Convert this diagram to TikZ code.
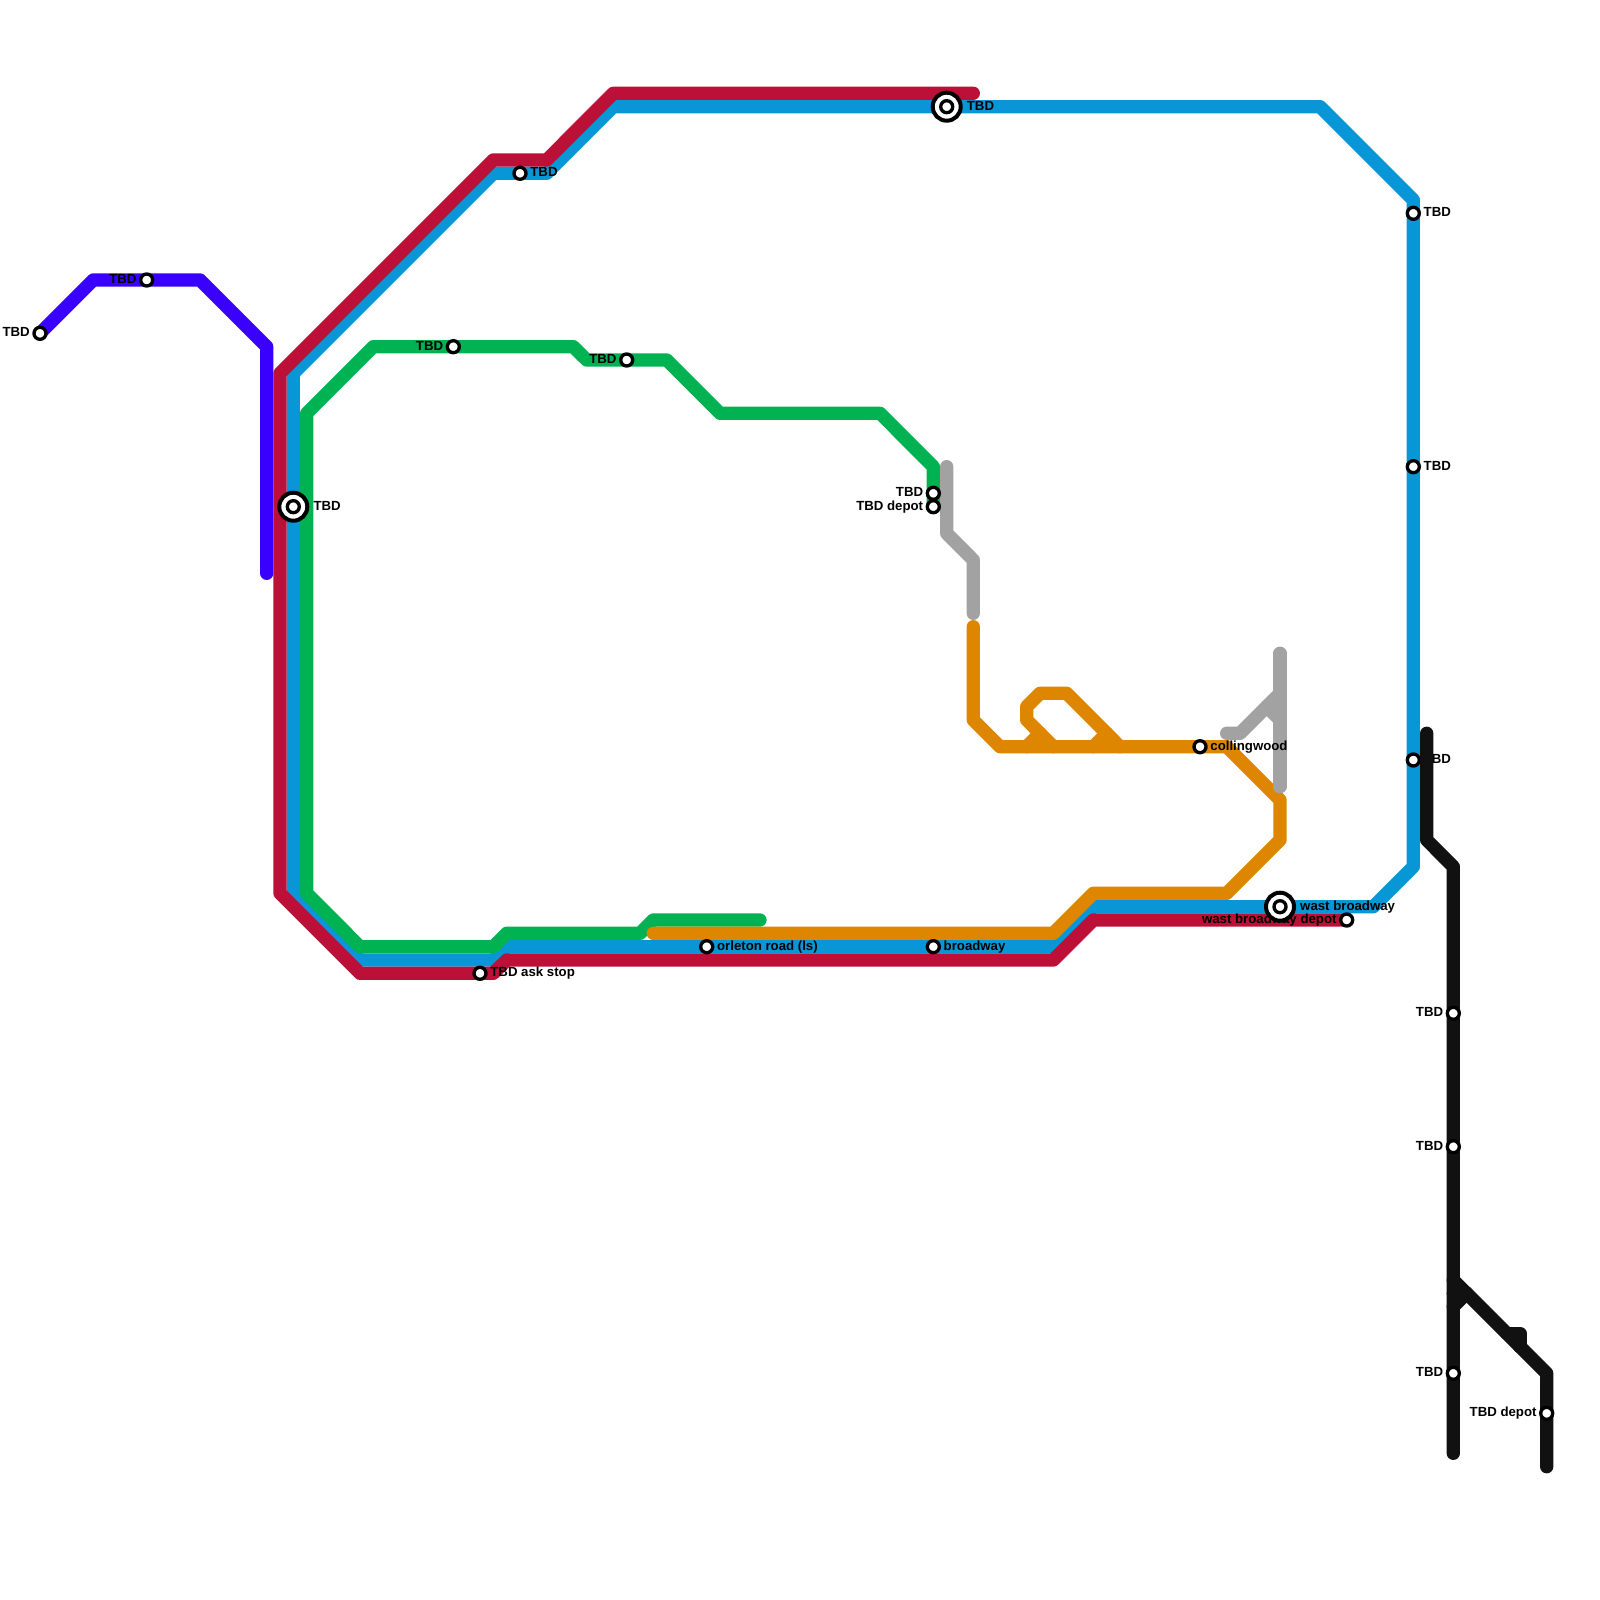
\documentclass[tikz,border=0pt]{standalone}
\usepackage{fontspec}
\setmainfont{Liberation Sans}
\usetikzlibrary{calc}
\definecolor{violetline}{RGB}{58,0,255}
\definecolor{crimsonline}{RGB}{189,16,56}
\definecolor{azureline}{RGB}{8,150,215}
\definecolor{greenline}{RGB}{0,178,81}
\definecolor{amberline}{RGB}{223,134,0}
\definecolor{ashline}{RGB}{162,162,162}
\definecolor{inkline}{RGB}{17,17,17}

\begin{document}
\begin{tikzpicture}[
  x=0.01cm,y=-0.01cm,
  track/.style={line width=0.1333cm,line cap=round,line join=round},
  stop/.style={circle,draw=black,fill=white,minimum size=0.12cm,inner sep=0pt,line width=0.0333cm},
  hub/.style={circle,draw=black,fill=white,minimum size=0.28cm,inner sep=0pt,line width=0.04cm},
  stoptext/.style={font=\bfseries\fontsize{3.76}{4}\selectfont,text=black,inner sep=0pt,text height=0.096cm,text depth=0.03cm}
]
\newcommand{\stopr}[3]{\node[stop] (#1) at (#2) {};\node[stoptext,anchor=west] (#1t) at ($(#1)+(9.7,0)$) {#3};}
\newcommand{\stopl}[3]{\node[stop] (#1) at (#2) {};\node[stoptext,anchor=east] (#1t) at ($(#1)+(-9.5,0)$) {#3};}
\newcommand{\hubr}[3]{\node[hub] (#1h) at (#2) {};\node[stop] (#1) at (#2) {};\node[stoptext,anchor=west] (#1t) at ($(#1)+(19.5,0)$) {#3};}
\useasboundingbox (0,0) rectangle (1600,1600);
% ================= azure =================
\coordinate (a1) at (493.3,173.3);
\coordinate (a2) at (546.7,173.3);
\coordinate (a3) at (613.3,106.7);
\coordinate (a4) at (1320,106.7);
\coordinate (a5) at (1413.3,200);
\coordinate (a6) at (1413.3,866.7);
\coordinate (a7) at (1373.3,906.7);
\coordinate (a8) at (1093.3,906.7);
\coordinate (a9) at (1053.3,946.7);
\coordinate (a10) at (506.7,946.7);
\coordinate (a11) at (493.3,960);
\coordinate (a12) at (360,960);
\coordinate (a13) at (293.3,893.3);
\coordinate (a14) at (293.3,373.3);
\draw[track,azureline] (a1)--(a2)--(a3)--(a4)--(a5)--(a6)--(a7)--(a8)--(a9)--(a10)--(a11)--(a12)--(a13)--(a14)--cycle;
% ================= violet =================
\coordinate (v1) at (40,333.3);
\coordinate (v2) at (93.3,280);
\coordinate (v3) at (200,280);
\coordinate (v4) at (266.7,346.7);
\coordinate (v5) at (266.7,573.3);
\draw[track,violetline] (v1)--(v2)--(v3)--(v4)--(v5);
% ================= crimson =================
\coordinate (c1) at (973.3,93.3);
\coordinate (c2) at (613.3,93.3);
\coordinate (c3) at (546.7,160);
\coordinate (c4) at (493.3,160);
\coordinate (c5) at (280,373.3);
\coordinate (c6) at (280,893.3);
\coordinate (c7) at (360,973.3);
\coordinate (c8) at (493.3,973.3);
\coordinate (c9) at (506.7,960);
\coordinate (c10) at (1053.3,960);
\coordinate (c11) at (1093.3,920);
\coordinate (c12) at (1346.7,920);
\draw[track,crimsonline] (c1)--(c2)--(c3)--(c4)--(c5)--(c6)--(c7)--(c8)--(c9)--(c10)--(c11)--(c12);
% ================= green =================
\coordinate (g1) at (760,920);
\coordinate (g2) at (653.3,920);
\coordinate (g3) at (640,933.3);
\coordinate (g4) at (506.7,933.3);
\coordinate (g5) at (493.3,946.7);
\coordinate (g6) at (360,946.7);
\coordinate (g7) at (306.7,893.3);
\coordinate (g8) at (306.7,413.3);
\coordinate (g9) at (373.3,346.7);
\coordinate (g10) at (573.3,346.7);
\coordinate (g11) at (586.7,360);
\coordinate (g12) at (666.7,360);
\coordinate (g13) at (720,413.3);
\coordinate (g14) at (880,413.3);
\coordinate (g15) at (933.3,466.7);
\coordinate (g16) at (933.3,506.7);
\draw[track,greenline] (g1)--(g2)--(g3)--(g4)--(g5)--(g6)--(g7)--(g8)--(g9)--(g10)--(g11)--(g12)--(g13)--(g14)--(g15)--(g16);
% ================= amber =================
\coordinate (o1) at (653.3,933.3);
\coordinate (o2) at (1053.3,933.3);
\coordinate (o3) at (1093.3,893.3);
\coordinate (o4) at (1226.7,893.3);
\coordinate (o5) at (1280,840);
\coordinate (o6) at (1280,800);
\coordinate (o7) at (1226.7,746.7);
\coordinate (o8) at (1000,746.7);
\coordinate (o9) at (973.3,720);
\coordinate (o10) at (973.3,626.7);
\coordinate (l1) at (1120,746.7);
\coordinate (l2) at (1066.7,693.3);
\coordinate (l3) at (1040,693.3);
\coordinate (l4) at (1026.7,706.7);
\coordinate (l5) at (1026.7,720);
\coordinate (l6) at (1053.3,746.7);
\coordinate (s1) at (1026.7,746.7);
\coordinate (s2) at (1040,733.3);
\coordinate (s3) at (1093.3,746.7);
\coordinate (s4) at (1106.7,733.3);
\draw[track,amberline] (o1)--(o2)--(o3)--(o4)--(o5)--(o6)--(o7)--(o8)--(o9)--(o10);
\draw[track,amberline] (l1)--(l2)--(l3)--(l4)--(l5)--(l6);
\draw[track,amberline] (s1)--(s2);
\draw[track,amberline] (s3)--(s4);
% ================= ash =================
\coordinate (h1) at (946.7,466.7);
\coordinate (h2) at (946.7,533.3);
\coordinate (h3) at (973.3,560);
\coordinate (h4) at (973.3,613.3);
\coordinate (h5) at (1280,653.3);
\coordinate (h6) at (1280,786.7);
\coordinate (h7) at (1226.7,733.3);
\coordinate (h8) at (1240,733.3);
\coordinate (h9) at (1280,693.3);
\coordinate (h10) at (1266.7,706.7);
\coordinate (h11) at (1280,720);
\draw[track,ashline] (h1)--(h2)--(h3)--(h4);
\draw[track,ashline] (h5)--(h6);
\draw[track,ashline] (h7)--(h8)--(h9);
\draw[track,ashline] (h10)--(h11);
% ================= stops =================
\stopl{wbd}{1346.7,920}{wast broadway depot}
\hubr{wb}{1280,906.7}{wast broadway}
\stopl{s1w}{40,333.3}{TBD}
\stopl{s2w}{146.7,280}{TBD}
\hubr{s3w}{293.3,506.7}{TBD}
\stopl{s4w}{453.3,346.7}{TBD}
\stopl{s5w}{626.7,360}{TBD}
\stopr{s6w}{520,173.3}{TBD}
\hubr{s7w}{946.7,106.7}{TBD}
\stopl{s8w}{933.3,493.3}{TBD}
\stopl{s9w}{933.3,506.7}{TBD depot}
\stopr{ask}{480,973.3}{TBD ask stop}
\stopr{orl}{706.7,946.7}{orleton road (ls)}
\stopr{bwy}{933.3,946.7}{broadway}
\stopr{col}{1200,746.7}{collingwood}
\stopr{e1}{1413.3,213.3}{TBD}
\stopr{e2}{1413.3,466.7}{TBD}
\stopr{e3}{1413.3,760}{TBD}
% ================= ink =================
\coordinate (k1) at (1426.7,733.3);
\coordinate (k2) at (1426.7,840);
\coordinate (k3) at (1453.3,866.7);
\coordinate (k4) at (1453.3,1453.3);
\coordinate (k5) at (1453.3,1280);
\coordinate (k6) at (1546.7,1373.3);
\coordinate (k7) at (1546.7,1466.7);
\coordinate (k8) at (1453.3,1306.7);
\coordinate (k9) at (1466.7,1293.3);
\coordinate (k10) at (1453.3,1293.3);
\coordinate (k11) at (1506.7,1333.3);
\coordinate (k12) at (1520,1333.3);
\coordinate (k13) at (1520,1346.7);
\draw[track,inkline] (k1)--(k2)--(k3)--(k4);
\draw[track,inkline] (k5)--(k6)--(k7);
\draw[track,inkline] (k8)--(k9)--(k10);
\draw[track,inkline] (k11)--(k12)--(k13);
\stopl{n1}{1453.3,1013.3}{TBD}
\stopl{n2}{1453.3,1146.7}{TBD}
\stopl{n3}{1453.3,1373.3}{TBD}
\stopl{n4}{1546.7,1413.3}{TBD depot}
\end{tikzpicture}
\end{document}
